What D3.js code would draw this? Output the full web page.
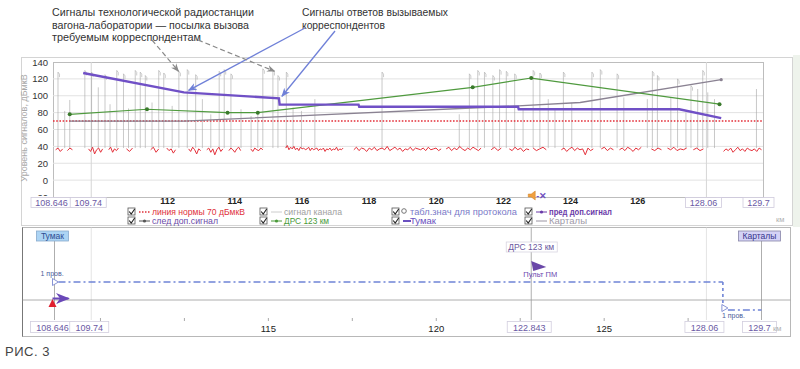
<!DOCTYPE html>
<html><head><meta charset="utf-8">
<script src="https://cdn.jsdelivr.net/npm/d3@7"></script>
<style>
body{margin:0;background:#fff}
svg{display:block}
text{font-family:"Liberation Sans",Arial,sans-serif}
</style>
</head><body>
<svg id="c" width="800" height="369"></svg>
<script>
// ---------- DATA ----------
const yTicks = [-20,0,20,40,60,80,100,120,140];
const kmTicksTop = [112,114,116,118,120,122,124,126];
const kmTicksBottom = [110,112.5,115,117.5,120,122.5,125,127.5];
const kmLabelsBottom = [115,120,125];
const markersTop = [108.646,109.74,128.06,129.7];
const markersBottom = [108.646,109.74,122.843,128.06,129.7];
const kmDomain = [108.646,129.7];
const normLevel = 70;
const drsKm = 122.843;

const tumak = [[109.5,127],[112.5,104],[115.33,97],[115.35,89.5],[117.7,89.5],[117.72,87],
  [122.45,87],[122.47,84],[127.25,84],[128.5,73.5]];
const drs = [[109.1,78],[111.4,84],[113.8,80],[114.7,80],[121.1,110],[122.843,121],[128.45,90]];
const kartaly = [[109.1,70],[112.5,70],[122.45,88],[124.3,92],[128.5,119]];

// channel signal spikes: [km, top level]
const spikes = [[108.75,128],[108.95,82],[109.1,95],[109.55,130],[109.75,128],[109.95,110],[110.15,125],
  [110.3,90],[110.5,130],[110.7,126],[110.85,85],[111.05,130],[111.2,128],[111.35,124],[111.55,92],
  [111.75,130],[111.9,127],[112.15,88],[112.35,129],[112.6,131],[112.85,125],[113.05,96],[113.3,78],
  [113.55,129],[113.7,131],[113.9,126],[114.2,84],[114.5,76],[114.7,80],[114.85,132],[115.15,130],
  [115.3,124],[115.55,128],[115.75,86],[116.0,82],[116.4,96],[118.4,128],[120.7,78],[121.0,126],
  [121.25,130],[121.45,128],[121.7,124],[121.9,131],[122.1,129],[122.35,126],[122.6,84],[122.9,130],
  [123.1,127],[123.35,96],[123.55,84],[123.8,128],[124.05,92],[124.65,128],[124.9,131],[125.4,126],
  [125.6,98],[126.3,96],[126.45,129],[126.6,124],[127.0,98],[127.2,120],[127.45,80],[127.6,112],
  [127.8,108],[127.95,130],[128.1,104],[128.3,96],[129.55,108]];
const spikeBase = 38;

// noise floor segments: [startKm, endKm, levels]
const noiseSegs = [
  [108.68,108.89,"36 38 34 37"],
  [109.03,109.18,"35 38 36"],
  [109.66,110.08,"37 34 39 31 36 38 33 37"],
  [110.26,110.55,"36 39 33 37 35 38"],
  [110.79,110.97,"37 34 38"],
  [111.51,111.75,"36 39 33 37"],
  [111.99,112.25,"38 35 37 32 36"],
  [112.64,113.0,"37 34 39 36 31 37 35"],
  [113.18,113.66,"36 38 33 37 30 36 39 34 37"],
  [113.84,114.19,"35 38 36 33 37 39 35"],
  [114.49,114.85,"37 34 38 36 35 38 36"],
  [115.53,117.24,"38 41 36 39 37 40 36 38 35 39 37 38 36 37 39 35 38 36 37 38 35 37 36 38 34 37 36 38 35 37 36 39 35 37 36 38"],
  [117.56,120.16,"36 39 35 38 37 34 38 36 39 35 37 38 36 40 35 37 39 36 38 34 37 36 39 35 38 37 36 38 35 39 36 37 38 35 37"],
  [120.31,121.35,"37 39 35 38 36 40 37 35 38 36 39 37 35 38"],
  [121.65,121.95,"36 39 35 38"],
  [122.19,122.78,"37 35 39 36 38 34 37 36"],
  [122.9,123.29,"38 35 37 39 36"],
  [123.74,124.69,"36 38 34 37 39 35 38 36 37 30 38 35 37"],
  [124.93,125.29,"37 39 35 38 36"],
  [125.47,126.12,"36 38 35 39 37 34 38 36 39"],
  [126.42,126.72,"37 35 38 36"],
  [126.9,127.47,"38 36 39 35 37 36 38"],
  [127.67,127.97,"36 38 35 37"],
  [128.57,129.7,"34 37 35 38 33 36 39 35 37 34 38 36 35 37 34 38 36"]
];

// connection (1 пров.) schematic
const connMain = [108.646,128.55];
const connEnd = [128.55,129.7];

const notesLeft = ["Сигналы технологической радиостанции","вагона-лаборатории — посылка вызова","требуемым корреспондентам"];
const notesRight = ["Сигналы ответов вызываемых","корреспондентов"];
const blueTargets = [[112.55,104],[115.33,97]];
const grayTargets = [[112.34,129],[115.2,129]];

const legendItems = [
 {label:"линия нормы 70 дБмкВ", color:"#e0303a", kind:"dotted", col:0,row:0, w:93},
 {label:"след доп.сигнал", color:"#6a4aa8", sym:"#555", kind:"dotline", col:0,row:1, w:66},
 {label:"сигнал канала", color:"#a0a0a0", sym:"#ccc", kind:"line", col:1,row:0, w:58},
 {label:"ДРС 123 км", color:"#4a9a3a", sym:"#4a9a3a", kind:"dotline", col:1,row:1, w:45},
 {label:"табл.знач для протокола", color:"#7a7ac8", sym:"#666", kind:"circle", col:2,row:0, w:107},
 {label:"Тумак", color:"#6a50c0", sym:"#6a50c0", kind:"thick", col:2,row:1, w:26},
 {label:"пред доп.сигнал", color:"#6a3aa8", sym:"#6a3aa8", kind:"dotline", col:3,row:0, bold:true, w:63},
 {label:"Карталы", color:"#a09aa8", sym:"#9a94a2", kind:"line", col:3,row:1, w:38}
];

// ---------- DRAW ----------
const svg = d3.select("#c");
const x = d3.scaleLinear().domain(kmDomain).range([54.5,761.5]);
const y = d3.scaleLinear().domain([-20,140]).range([197,62]);
const PL=53, PR=763, PT=62, PB=197;

const defs = svg.append("defs");
function mk(id,color){
  defs.append("marker").attr("id",id).attr("viewBox","0 0 10 10").attr("refX",9).attr("refY",5)
   .attr("markerWidth",7).attr("markerHeight",7).attr("orient","auto-start-reverse")
   .append("path").attr("d","M0,1 L10,5 L0,9 L3,5 Z").attr("fill",color);
}
mk("aBlue","#6f80d8"); mk("aGray","#8a8a8a"); mk("aPur","#6a48b8");
defs.append("clipPath").attr("id","plotClip").append("rect").attr("x",PL).attr("y",PT).attr("width",PR-PL).attr("height",PB-PT);
defs.append("clipPath").attr("id","yLabClip").append("rect").attr("x",0).attr("y",50).attr("width",PL).attr("height",146);

// scan tint at right
svg.append("rect").attr("x",793).attr("y",55).attr("width",7).attr("height",172).attr("fill","#eef3ec");

// frames
svg.append("rect").attr("x",21.5).attr("y",57.5).attr("width",771).attr("height",168).attr("fill","none").attr("stroke","#d4d4d4");
svg.append("rect").attr("x",PL+0.5).attr("y",PT+0.5).attr("width",PR-PL).attr("height",PB-PT).attr("fill","#fff").attr("stroke","#bdbdbd");

// grid + y axis
const gyOuter = svg.append("g").attr("clip-path","url(#yLabClip)");
const gy = gyOuter.append("g").attr("transform",`translate(${PL},0)`)
  .call(d3.axisLeft(y).tickValues(yTicks).tickSize(0).tickPadding(5).tickFormat(d3.format("d")));
gy.select(".domain").remove();
gy.selectAll(".tick text").attr("fill","#333").attr("font-size",9.5)
  .attr("font-family","Liberation Sans, Arial, sans-serif");
svg.append("g").selectAll("line").data(yTicks.filter(d=>d>-20 && d<140)).join("line")
  .attr("x1",PL).attr("x2",PR).attr("y1",d=>y(d)).attr("y2",d=>y(d)).attr("stroke","#e2e2e2");

// vertical light lines at markers
svg.append("g").selectAll("line").data([109.74,128.06]).join("line")
  .attr("x1",d=>x(d)).attr("x2",d=>x(d)).attr("y1",PT).attr("y2",PB).attr("stroke","#d6d6d6");

svg.append("text").attr("transform","translate(27,128) rotate(-90)").attr("text-anchor","middle")
  .attr("font-size",9).attr("fill","#a8a8a8").text("Уровень сигналов, дБмкВ");

const plot = svg.append("g").attr("clip-path","url(#plotClip)");
// spikes
plot.append("g").selectAll("line").data(spikes).join("line")
  .attr("x1",d=>x(d[0])).attr("x2",d=>x(d[0])).attr("y1",y(spikeBase)).attr("y2",d=>y(d[1]))
  .attr("stroke","#a4a4a4").attr("stroke-width",0.6);
plot.append("g").selectAll("path").data(spikes.filter(d=>d[1]>110)).join("path")
  .attr("d",d=>`M${x(d[0])},${y(d[1])} l1.5,2 v3`).attr("fill","none").attr("stroke","#aaa").attr("stroke-width",0.6);

// noise
const line = d3.line().x(d=>x(d[0])).y(d=>y(d[1]));
noiseSegs.forEach(s=>{
  const v = s[2].split(" ").map(Number);
  const pts = v.map((val,i)=>[s[0]+(s[1]-s[0])*i/(v.length-1), val]);
  plot.append("path").attr("d",line(pts)).attr("fill","none").attr("stroke","#e4303a").attr("stroke-width",1);
});

// norm line
plot.append("line").attr("x1",PL).attr("x2",PR).attr("y1",y(normLevel)).attr("y2",y(normLevel))
  .attr("stroke","#e4303a").attr("stroke-width",1.6).attr("stroke-dasharray","1.6,1.6");

// kartaly
plot.append("path").attr("d",line(kartaly)).attr("fill","none").attr("stroke","#8a8292").attr("stroke-width",1.3);
plot.append("circle").attr("cx",x(kartaly[kartaly.length-1][0])).attr("cy",y(kartaly[kartaly.length-1][1])).attr("r",1.6).attr("fill","#8a8292");
// drs
plot.append("path").attr("d",line(drs)).attr("fill","none").attr("stroke","#4f9a3e").attr("stroke-width",1.2);
plot.append("g").selectAll("circle").data(drs).join("circle").attr("cx",d=>x(d[0])).attr("cy",d=>y(d[1])).attr("r",2).attr("fill","#3a7a2c");
// tumak
plot.append("path").attr("d",line(tumak)).attr("fill","none").attr("stroke","#7050c6").attr("stroke-width",2.4);

// x axis top
const gx = svg.append("g").attr("transform",`translate(0,${PB})`)
  .call(d3.axisBottom(x).tickValues(kmTicksTop).tickSize(0).tickPadding(1).tickFormat(d3.format("d")));
gx.select(".domain").remove();
gx.selectAll(".tick text").attr("fill","#222").attr("font-size",9).attr("font-weight","bold")
  .attr("font-family","Liberation Sans, Arial, sans-serif");

function boxes(vals, yTop, h, fs){
  const g = svg.append("g");
  vals.forEach(v=>{
    const t = String(v);
    const w = t.length*5+6;
    const cx = x(v)-3;
    g.append("rect").attr("x",cx-w/2).attr("y",yTop).attr("width",w).attr("height",h)
      .attr("fill","#fff").attr("stroke","#cfcadc").attr("stroke-width",0.8);
    g.append("text").attr("x",cx).attr("y",yTop+h/2+3.2).attr("text-anchor","middle")
      .attr("font-size",fs).attr("fill","#6a58a4").text(t);
  });
}
svg.append("line").attr("x1",x(128.06)+10).attr("x2",x(129.7)-18).attr("y1",197.5).attr("y2",197.5).attr("stroke","#cfcadc");
boxes(markersTop,197.5,10,9);
svg.append("text").attr("x",776).attr("y",222).attr("font-size",7.5).attr("fill","#b0b0b0").text("км");

// speaker icon near DRS
const sx = x(drsKm);
svg.append("path").attr("d",`M${sx-3},${194} h3 l4,-3 v9 l-4,-3 h-3 z`).attr("fill","#f0a040").attr("stroke","#d08020").attr("stroke-width",0.5);
svg.append("text").attr("x",sx+5).attr("y",199).attr("font-size",9).attr("fill","#7050c0").attr("font-weight","bold").text("-✕");

// legend
const colX = [128,260,392,525];
const rowY = [212,221];
legendItems.forEach(it=>{
  const cx = colX[it.col], cy = rowY[it.row];
  const g = svg.append("g");
  g.append("rect").attr("x",cx).attr("y",cy-4).attr("width",7).attr("height",7).attr("fill","#fff").attr("stroke","#555").attr("stroke-width",0.8);
  g.append("path").attr("d",`M${cx+1.2},${cy-0.5} l2,2.5 l3.5,-5`).attr("fill","none").attr("stroke","#222").attr("stroke-width",1.1);
  const sx0 = cx+11, sx1 = cx+22;
  if(it.kind==="dotted") g.append("line").attr("x1",sx0).attr("x2",sx1).attr("y1",cy).attr("y2",cy).attr("stroke",it.color).attr("stroke-width",1.6).attr("stroke-dasharray","1.5,1.5");
  if(it.kind==="line") g.append("line").attr("x1",sx0).attr("x2",sx1).attr("y1",cy).attr("y2",cy).attr("stroke",it.sym).attr("stroke-width",1);
  if(it.kind==="thick") g.append("line").attr("x1",sx0).attr("x2",sx0+8).attr("y1",cy).attr("y2",cy).attr("stroke",it.sym).attr("stroke-width",2);
  if(it.kind==="dotline"){ g.append("line").attr("x1",sx0).attr("x2",sx1).attr("y1",cy).attr("y2",cy).attr("stroke",it.sym).attr("stroke-width",1);
    g.append("circle").attr("cx",(sx0+sx1)/2).attr("cy",cy).attr("r",1.6).attr("fill",it.sym); }
  if(it.kind==="circle") g.append("circle").attr("cx",cx+12).attr("cy",cy-1).attr("r",2.3).attr("fill","none").attr("stroke",it.sym).attr("stroke-width",0.9);
  const tx = it.kind==="circle"||it.kind==="thick" ? cx+18 : cx+24;
  g.append("text").attr("x",tx).attr("y",cy+3).attr("font-size",9).attr("fill",it.color)
    .attr("textLength",it.w).attr("lengthAdjust","spacingAndGlyphs")
    .attr("font-weight",it.bold?"bold":"normal").text(it.label);
});

// ---------- BOTTOM PANEL ----------
const BT=227.5, BB=336.5, BL=22.5, BR=790.5;
svg.append("rect").attr("x",BL).attr("y",BT).attr("width",BR-BL).attr("height",BB-BT).attr("fill","none").attr("stroke","#b8b8b8");
svg.append("line").attr("x1",BL).attr("x2",BL).attr("y1",BT).attr("y2",BB).attr("stroke","#777");
// verticals
svg.append("g").selectAll("line").data(markersBottom).join("line")
  .attr("x1",d=>x(d)).attr("x2",d=>x(d)).attr("y1",d=>(d===drsKm?BT:(d===109.74||d===128.06?BT:240))).attr("y2",320)
  .attr("stroke",d=>(d===109.74||d===128.06)?"#dcdcdc":"#999").attr("stroke-width",0.8);
// track
svg.append("line").attr("x1",BL).attr("x2",BR).attr("y1",300).attr("y2",300).attr("stroke","#999").attr("stroke-width",0.8);

// station boxes
function stBox(v, w, fill, stroke, tcol, label){
  const cx = x(v)-2;
  svg.append("rect").attr("x",cx-w/2).attr("y",231).attr("width",w).attr("height",10).attr("fill",fill).attr("stroke",stroke).attr("stroke-width",0.8);
  svg.append("text").attr("x",cx).attr("y",239).attr("text-anchor","middle").attr("font-size",8.5).attr("fill",tcol).text(label);
}
stBox(108.646,32,"#acd4f4","#88aacc","#2e4c92","Тумак");
stBox(129.7,42,"#d4d2f6","#8886a8","#34348c","Карталы");

// DRS label + flag
svg.append("rect").attr("x",x(drsKm)-25).attr("y",242).attr("width",51).attr("height",10).attr("fill","#fff").attr("stroke","#d8d4e0").attr("stroke-width",0.8);
svg.append("text").attr("x",x(drsKm)).attr("y",250).attr("text-anchor","middle").attr("font-size",8.5).attr("fill","#6a58a0").text("ДРС 123 км");
const fx = x(drsKm);
svg.append("path").attr("d",`M${fx},261 L${fx+15},267 L${fx+2},271 Z`).attr("fill","#6a48a8");
svg.append("text").attr("x",fx+9).attr("y",277).attr("text-anchor","middle").attr("font-size",7.5).attr("fill","#6a48b0").text("Пульт ПМ");

// connection lines
const dash = "7,3,2,3";
svg.append("line").attr("x1",x(connMain[0])+4).attr("x2",x(connMain[1])).attr("y1",282).attr("y2",282)
  .attr("stroke","#6f84d6").attr("stroke-width",1.6).attr("stroke-dasharray",dash);
svg.append("line").attr("x1",x(connMain[1])).attr("x2",x(connMain[1])).attr("y1",282).attr("y2",310)
  .attr("stroke","#6f84d6").attr("stroke-width",1.6).attr("stroke-dasharray","3,3");
svg.append("line").attr("x1",x(connEnd[0])+5).attr("x2",x(connEnd[1])).attr("y1",310).attr("y2",310)
  .attr("stroke","#6f84d6").attr("stroke-width",1.6).attr("stroke-dasharray",dash);
function tri(px,py){ svg.append("path").attr("d",`M${px},${py-3.5} L${px+6},${py} L${px},${py+3.5} Z`).attr("fill","#fff").attr("stroke","#7a88d0").attr("stroke-width",0.9); }
tri(x(connMain[0])-2,282); tri(x(connEnd[0])-1,308);
svg.append("text").attr("x",x(connMain[0])-14).attr("y",276).attr("font-size",7).attr("fill","#4a5a9a").text("1 пров.");
svg.append("text").attr("x",x(connEnd[0])-1).attr("y",318).attr("font-size",7).attr("fill","#4a5a9a").text("1 пров.");

// red triangle & purple arrow
const sx2 = x(108.646)-2;
svg.append("path").attr("d",`M${sx2-4},307 L${sx2+4},307 L${sx2},299 Z`).attr("fill","#e02030");
svg.append("line").attr("x1",sx2).attr("x2",sx2+16).attr("y1",298.5).attr("y2",298.5).attr("stroke","#6a48b8").attr("stroke-width",2).attr("marker-end","url(#aPur)");

// bottom axis
const gb = svg.append("g").attr("transform","translate(0,318)")
  .call(d3.axisBottom(x).tickValues(kmTicksBottom).tickSize(3).tickPadding(4)
     .tickFormat(d=>kmLabelsBottom.includes(d)?d3.format("d")(d):""));
gb.select(".domain").remove();
gb.selectAll(".tick line").attr("stroke","#aaa");
gb.selectAll(".tick text").attr("fill","#222").attr("font-size",9.5).attr("font-family","Liberation Sans, Arial, sans-serif");
(function(){
  const g = svg.append("g");
  markersBottom.forEach(v=>{
    const t=String(v), w=t.length*5+9, cx=x(v)-2;
    g.append("rect").attr("x",cx-w/2).attr("y",321.5).attr("width",w).attr("height",11).attr("fill","#fff").attr("stroke","#d2cede").attr("stroke-width",0.8);
    g.append("text").attr("x",cx).attr("y",330.5).attr("text-anchor","middle").attr("font-size",9).attr("fill","#6a58a4").text(t);
  });
})();
svg.append("text").attr("x",773).attr("y",331).attr("font-size",7.5).attr("fill","#b0b0b0").text("км");

// ---------- ANNOTATIONS ----------
const lw = [202,197,149];
notesLeft.forEach((t,i)=>svg.append("text").attr("x",52).attr("y",16+i*12.6).attr("font-size",11).attr("fill","#333")
  .attr("textLength",lw[i]).attr("lengthAdjust","spacingAndGlyphs").text(t));
const rw = [146,83];
notesRight.forEach((t,i)=>svg.append("text").attr("x",302).attr("y",16+i*12.6).attr("font-size",11).attr("fill","#333")
  .attr("textLength",rw[i]).attr("lengthAdjust","spacingAndGlyphs").text(t));

const blueStarts = [[305,28],[335,31]];
blueTargets.forEach((t,i)=>svg.append("line").attr("x1",blueStarts[i][0]).attr("y1",blueStarts[i][1])
  .attr("x2",x(t[0])+3).attr("y2",y(t[1])-2).attr("stroke","#6f80d8").attr("stroke-width",1.3).attr("marker-end","url(#aBlue)"));
const grayStarts = [[152,40],[198,40]];
grayTargets.forEach((t,i)=>svg.append("line").attr("x1",grayStarts[i][0]).attr("y1",grayStarts[i][1])
  .attr("x2",x(t[0])).attr("y2",y(t[1])).attr("stroke","#8a8a8a").attr("stroke-width",1.2).attr("stroke-dasharray","5,3").attr("marker-end","url(#aGray)"));

svg.append("text").attr("x",5).attr("y",356).attr("font-size",13).attr("fill","#444").attr("letter-spacing",0.5).text("РИС. 3");
</script>
</body></html>
